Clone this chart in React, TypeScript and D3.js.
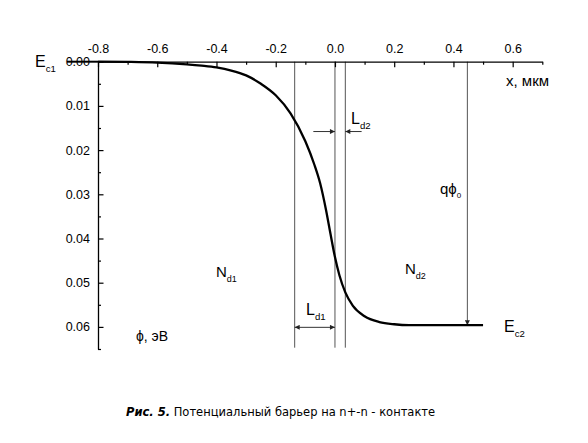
import { useEffect, useRef } from "react";
import * as d3 from "d3";

// potential profile φ(x)
const xValues = [-0.8, -0.7, -0.6, -0.5, -0.45, -0.4, -0.35, -0.3, -0.25, -0.2, -0.15, -0.1, -0.07, -0.05, -0.03, -0.015, 0.0, 0.015, 0.035, 0.06, 0.1, 0.15, 0.2, 0.25, 0.3, 0.4, 0.5];
const phiValues = [0, 0.00005, 0.0002, 0.0006, 0.0009, 0.0013, 0.002, 0.0031, 0.005, 0.0076, 0.0117, 0.018, 0.0232, 0.0275, 0.0336, 0.039, 0.0442, 0.0483, 0.0522, 0.0552, 0.0576, 0.0589, 0.0594, 0.0596, 0.0596, 0.0596, 0.0596];

const xMajorTicks = [-0.8, -0.6, -0.4, -0.2, 0.0, 0.2, 0.4, 0.6];
const xMinorTicks = [-0.7, -0.5, -0.3, -0.1, 0.1, 0.3, 0.5, 0.7];
const yMajorTicks = [0, 0.01, 0.02, 0.03, 0.04, 0.05, 0.06];
const yMinorTicks = [0.005, 0.015, 0.025, 0.035, 0.045, 0.055, 0.065];

// vertical guide lines (x, мкм)
const guideLines = [-0.136, 0.0, 0.035];
const barrierX = 0.447;
const barrierPhi = 0.0596;

const caption = "Потенциальный барьер на n+-n - контакте";

export default function App() {
  const svgRef = useRef<SVGSVGElement>(null);

  useEffect(() => {
    if (!svgRef.current) return;
    const svg = d3.select(svgRef.current);
    svg.selectAll("*").remove();

    const x = d3.scaleLinear().domain([-0.8, 0.7]).range([98, 542.3]);
    const y = d3.scaleLinear().domain([0, 0.065]).range([61.7, 349]);

    const defs = svg.append("defs");
    defs.append("marker")
      .attr("id", "arr")
      .attr("viewBox", "0 0 10 10")
      .attr("refX", 10)
      .attr("refY", 5)
      .attr("markerWidth", 7)
      .attr("markerHeight", 5)
      .attr("markerUnits", "userSpaceOnUse")
      .attr("orient", "auto-start-reverse")
      .append("path")
      .attr("d", "M0,0L10,5L0,10Z")
      .attr("fill", "#222");

    const font = "'Liberation Sans', Arial, sans-serif";
    const g = svg.append("g").attr("font-family", font);
    const hyphen = (f: (n: number) => string) => (d: any) => f(d).replace("−", "-");

    // guide lines
    guideLines.forEach((v) => {
      g.append("line")
        .attr("x1", x(v)).attr("x2", x(v))
        .attr("y1", y(0)).attr("y2", y(0.0647))
        .attr("stroke", "#555").attr("stroke-width", 1);
    });

    // qφ0 arrow
    g.append("line")
      .attr("x1", x(barrierX)).attr("x2", x(barrierX))
      .attr("y1", y(0)).attr("y2", y(barrierPhi))
      .attr("stroke", "#555").attr("stroke-width", 1)
      .attr("marker-end", "url(#arr)");

    // L_d1 double arrow
    g.append("line")
      .attr("x1", x(guideLines[0])).attr("x2", x(guideLines[1]))
      .attr("y1", y(0.0601)).attr("y2", y(0.0601))
      .attr("stroke", "#333").attr("stroke-width", 1)
      .attr("marker-start", "url(#arr)")
      .attr("marker-end", "url(#arr)");

    // L_d2 arrows pointing inward
    g.append("line")
      .attr("x1", x(-0.073)).attr("x2", x(guideLines[1]))
      .attr("y1", y(0.0158)).attr("y2", y(0.0158))
      .attr("stroke", "#333").attr("stroke-width", 1)
      .attr("marker-end", "url(#arr)");
    g.append("line")
      .attr("x1", x(0.09)).attr("x2", x(guideLines[2]))
      .attr("y1", y(0.0158)).attr("y2", y(0.0158))
      .attr("stroke", "#333").attr("stroke-width", 1)
      .attr("marker-end", "url(#arr)");

    // E_c1 level stub
    g.append("line")
      .attr("x1", x(-0.8) - 31).attr("x2", x(-0.8))
      .attr("y1", y(0)).attr("y2", y(0))
      .attr("stroke", "#000").attr("stroke-width", 2);

    // axes
    const styleAxis = (sel: any, size: number) => {
      sel.select(".domain").attr("stroke", "#000").attr("stroke-width", 1.3);
      sel.selectAll(".tick line").attr("stroke", "#000").attr("stroke-width", 1.2);
      sel.selectAll(".tick text").attr("fill", "#000").attr("font-size", size).attr("font-family", font);
    };

    g.append("g")
      .attr("transform", `translate(0,${y(0)})`)
      .call(d3.axisTop(x).tickValues(xMinorTicks).tickSizeInner(-3).tickSizeOuter(0).tickFormat(() => ""))
      .call((s) => styleAxis(s, 12));
    g.append("g")
      .attr("transform", `translate(0,${y(0)})`)
      .call(d3.axisTop(x).tickValues(xMajorTicks).tickSizeInner(-5.5).tickSizeOuter(0).tickPadding(9).tickFormat(hyphen(d3.format(".1f"))))
      .call((s) => styleAxis(s, 12.5))
      .call((s) => s.select(".domain").remove());

    g.append("g")
      .attr("transform", `translate(${x(-0.8)},0)`)
      .call(d3.axisLeft(y).tickValues(yMinorTicks).tickSizeInner(-3).tickSizeOuter(0).tickFormat(() => ""))
      .call((s) => styleAxis(s, 12));
    g.append("g")
      .attr("transform", `translate(${x(-0.8)},0)`)
      .call(d3.axisLeft(y).tickValues(yMajorTicks).tickSizeInner(-5.5).tickSizeOuter(0).tickPadding(8).tickFormat(d3.format(".2f")))
      .call((s) => styleAxis(s, 12.5))
      .call((s) => s.select(".domain").remove());

    // curve
    const pts = xValues.map((v, i) => [v, phiValues[i]] as [number, number]);
    const line = d3.line<[number, number]>()
      .x((d) => x(d[0]))
      .y((d) => y(d[1]))
      .curve(d3.curveMonotoneX);
    g.append("path")
      .datum(pts)
      .attr("d", line)
      .attr("fill", "none")
      .attr("stroke", "#000")
      .attr("stroke-width", 2.3);

    // labels with subscripts
    const subLabel = (px: number, py: number, main: string, sub: string, size = 15) => {
      const t = g.append("text").attr("x", px).attr("y", py).attr("font-size", size).attr("fill", "#000");
      t.append("tspan").text(main);
      t.append("tspan").attr("font-size", size * 0.6).attr("dy", 5).text(sub);
    };
    subLabel(35, 67, "E", "c1", 16);
    subLabel(216, 277, "N", "d1");
    subLabel(405, 274, "N", "d2");
    subLabel(504, 332, "E", "c2", 16);
    subLabel(306, 315, "L", "d1", 16);
    subLabel(351, 124, "L", "d2", 16);

    const q = g.append("text").attr("x", 440).attr("y", 194).attr("font-size", 15).attr("fill", "#000");
    q.append("tspan").text("qϕ");
    q.append("tspan").attr("font-size", 8).attr("dy", 4).text("0");

    g.append("text").attr("x", 506).attr("y", 86).attr("font-size", 15).attr("fill", "#000").text("x, мкм");
    g.append("text").attr("x", 136).attr("y", 341).attr("font-size", 14).attr("fill", "#000").text("ϕ, эВ");

    // caption
    const c = svg.append("text")
      .attr("x", 126).attr("y", 416)
      .attr("font-family", "'DejaVu Sans', Verdana, sans-serif")
      .attr("font-size", 11.5)
      .attr("fill", "#000");
    c.append("tspan").attr("font-weight", "bold").attr("font-style", "italic").text("Рис. 5.");
    c.append("tspan").text(" " + caption);
  }, []);

  return (
    <svg
      ref={svgRef}
      width={588}
      height={443}
      style={{ position: "absolute", left: 0, top: 0, background: "#fff" }}
    />
  );
}
